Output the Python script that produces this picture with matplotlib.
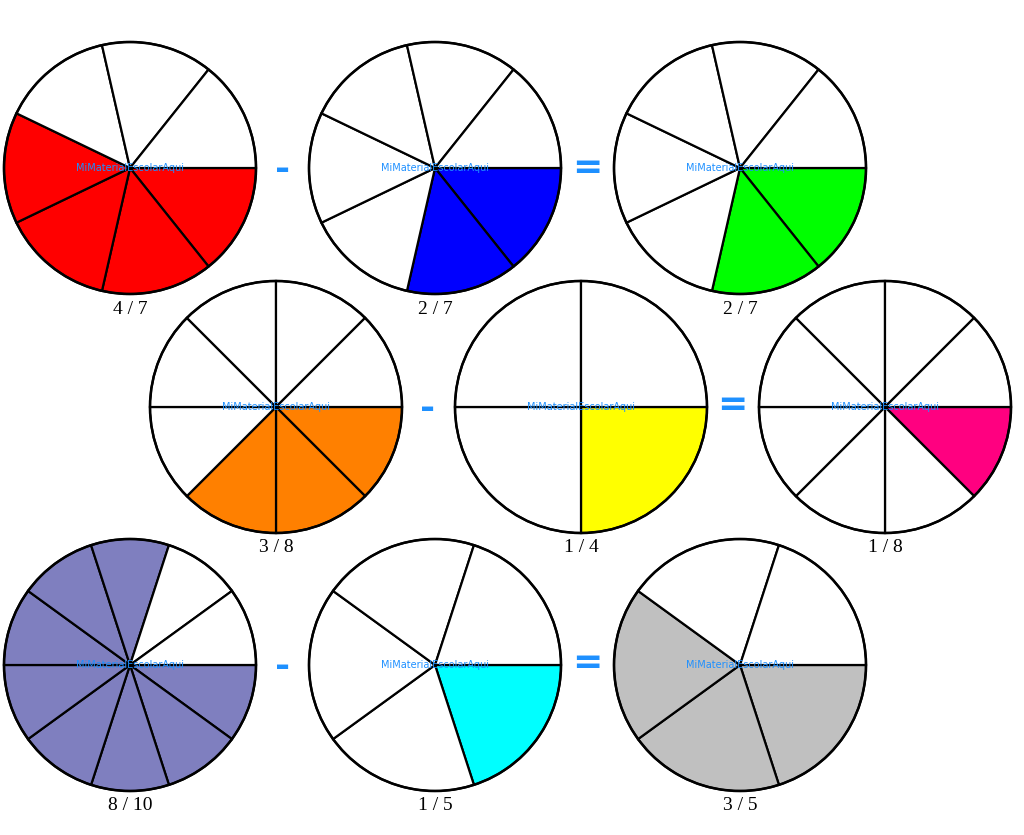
import matplotlib
matplotlib.use("Agg")
import matplotlib.pyplot as plt
from matplotlib.patches import Wedge, Circle

numerators = [4, 2, 2, 3, 1, 1, 8, 1, 3]
denominators = [7, 7, 7, 8, 4, 8, 10, 5, 5]
colors = ["#ff0000", "#0000ff", "#00ff00", "#ff8000", "#ffff00", "#ff0080",
          "#7f7fbf", "#00ffff", "#c0c0c0"]
operators = ["-", "=", "-", "=", "-", "="]
watermark = "MiMaterialEscolarAqui"

centers = [(130, 168), (435, 168), (740, 168),
           (276, 407), (581, 407), (885, 407),
           (130, 665), (435, 665), (740, 665)]
op_pos = [(283, 170), (587, 168), (428, 409), (732, 405), (283, 667), (587, 663)]
R = 126

fig = plt.figure(figsize=(10.24, 8.35), dpi=100)
ax = fig.add_axes([0, 0, 1, 1])
ax.set_xlim(0, 1024)
ax.set_ylim(835, 0)
ax.set_aspect("equal")
ax.axis("off")

for (cx, cy), n, d, c in zip(centers, numerators, denominators, colors):
    step = 360.0 / d
    for k in range(d):
        t1, t2 = k * step, (k + 1) * step
        fc = c if k < n else "white"
        ax.add_patch(Wedge((cx, cy), R, t1, t2, facecolor=fc, edgecolor="black", lw=1.6))
    ax.add_patch(Circle((cx, cy), R, fill=False, edgecolor="black", lw=1.8))
    ax.text(cx, cy, watermark, color="#1E90FF", fontsize=7, ha="center", va="center")
    ax.text(cx, cy + R + 15, f"{n} / {d}", fontsize=14, family="Liberation Serif",
            ha="center", va="center")

for (x, y), op in zip(op_pos, operators):
    ax.text(x, y, op, color="#1E90FF", fontsize=26, fontweight="bold", ha="center", va="center")

fig.savefig("out.png", dpi=100, facecolor="white")
